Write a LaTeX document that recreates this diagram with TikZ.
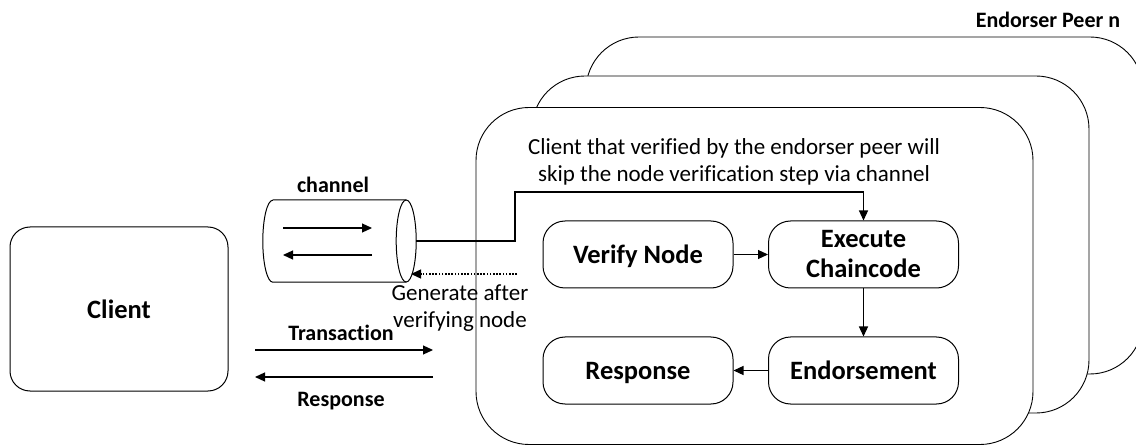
\documentclass[tikz,border=0pt]{standalone}
\usepackage{fontspec}
\setmainfont{Carlito}[Ligatures={NoCommon,NoRare}]
\usetikzlibrary{arrows.meta,calc}

\begin{document}
\begin{tikzpicture}[x=1pt,y=1pt,
  peerbox/.style={draw=black,line width=0.9pt,fill=white,rounded corners=53pt,
    minimum width=557pt,minimum height=337pt,inner sep=0pt},
  stepbox/.style={draw=black,line width=1pt,rounded corners=22pt,
    minimum width=190pt,minimum height=67pt,inner sep=0pt,align=center,
    font=\fontsize{26.5}{30}\selectfont\bfseries},
  clientbox/.style={draw=black,line width=1pt,rounded corners=20pt,
    minimum width=218pt,minimum height=164pt,inner sep=0pt,
    font=\fontsize{26.5}{30}\selectfont\bfseries},
  lbl/.style={font=\fontsize{22}{27}\selectfont\bfseries,inner sep=0pt},
  note/.style={font=\fontsize{23}{27}\selectfont,align=center,inner sep=0pt},
  arr/.style={line width=1.2pt,-{Triangle[length=10pt,width=9pt]}},
  dotarr/.style={line width=1.3pt,dash pattern=on 1.6pt off 1.6pt,-{Triangle[length=10pt,width=9pt]}}
]
\useasboundingbox (0,0) rectangle (1136,445);

% stacked endorser peers, back to front
\node[peerbox] (peer3) at (864.5,239.5) {};
\node[peerbox] (peer2) at (810.5,200.5) {};
\node[peerbox] (peer1) at (754.5,169) {};
\node[lbl] (peerlbl) at (1048,425) {Endorser Peer n};

% client
\node[clientbox] (client) at (119,136) {Client};

% channel drawn as a horizontal cylinder
\node[minimum width=133pt,minimum height=82pt,inner sep=0pt] (channel) at (339.5,204) {};
\draw[line width=1pt] (channel.north west) -- (channel.north east)
  (channel.south east) -- (channel.south west)
  arc[start angle=270,end angle=90,x radius=10,y radius=41];
\draw[line width=1pt] (channel.east) ellipse[x radius=10,y radius=41];
\node[lbl] (chanlbl) at (333,260) {channel};
\coordinate (chinA) at (283,217);
\coordinate (chinB) at (372,217);
\coordinate (chinC) at (372,190);
\coordinate (chinD) at (283,190);
\draw[arr] (chinA) -- (chinB);
\draw[arr] (chinC) -- (chinD);

% steps inside the endorser peer
\node[stepbox,text depth=0pt] (verify) at (638,190.5) {Verify Node};
\node[stepbox] (execute) at (863.5,190.5) {Execute\\Chaincode};
\node[stepbox,text depth=0pt] (response) at (638,74.5) {Response};
\node[stepbox] (endorse) at (863.5,74.5) {Endorsement};

\draw[arr] (verify.east) -- (execute.west);
\draw[arr] (execute.south) -- (endorse.north);
\draw[arr] (endorse.west) -- (response.east);

% shortcut from the channel to chaincode execution
\node[note] (skipnote) at (734,283.5) {Client that verified by the endorser peer will\\skip the node verification step via channel};
\coordinate (chanR) at (416,204);
\coordinate (bend) at (515,253);
\draw[arr] (chanR) -| (bend) -| (execute.north);

% channel generated after node verification
\coordinate (genstart) at (517,171);
\coordinate (genend) at (411,171);
\draw[dotarr] (genstart) -- (genend);
\node[note] (gennote) at (460,137) {Generate after\\verifying node};

% transaction / response between client and peer
\coordinate (txA) at (255,95);
\coordinate (txB) at (433,95);
\coordinate (rsA) at (433,68);
\coordinate (rsB) at (255,68);
\draw[arr] (txA) -- (txB);
\draw[arr] (rsA) -- (rsB);
\node[lbl] (txlbl) at (341,112) {Transaction};
\node[lbl] (rslbl) at (341,44) {Response};
\end{tikzpicture}
\end{document}
